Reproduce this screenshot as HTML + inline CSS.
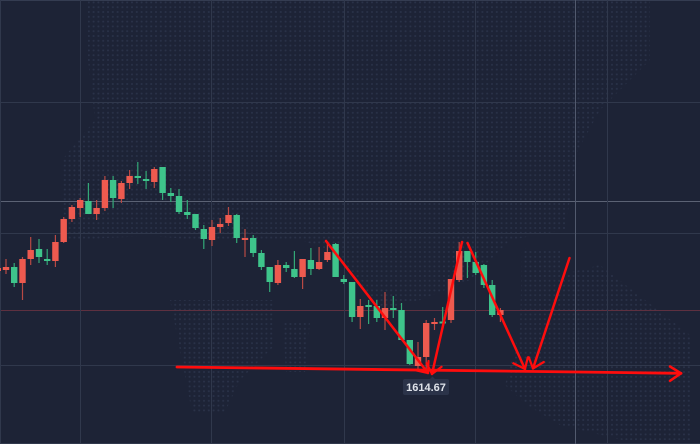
<!DOCTYPE html>
<html>
<head>
<meta charset="utf-8">
<style>
html,body{margin:0;padding:0;background:#1d2336;}
svg{display:block;}
</style>
</head>
<body>
<svg width="700" height="444" viewBox="0 0 700 444" xmlns="http://www.w3.org/2000/svg">
<defs>
<pattern id="dots" width="4.8" height="4.8" patternUnits="userSpaceOnUse">
<circle cx="2.4" cy="2.4" r="1" fill="#2a3249"/>
</pattern>
</defs>
<rect x="0" y="0" width="700" height="444" fill="#1d2336"/>
<!-- dotted world map approximation -->
<g fill="url(#dots)">
<polygon points="88,0 650,0 650,60 600,110 578,150 565,230 510,240 470,280 420,300 380,310 330,250 300,240 250,240 200,240 150,236 62,240 62,160 95,120 88,60"/>
<polygon points="170,300 275,300 275,345 240,380 225,412 192,412 180,350"/>
<polygon points="283,322 310,322 305,372 286,372"/>
<polygon points="522,248 560,250 560,275 600,265 645,300 690,335 690,440 622,440 560,425 527,405 505,385 520,330"/>
</g>
<!-- grid -->
<g stroke-width="1" shape-rendering="crispEdges">
<line x1="0" y1="0.5" x2="700" y2="0.5" stroke="#343c51"/>
<line x1="0" y1="102.5" x2="700" y2="102.5" stroke="#30384c"/>
<line x1="0" y1="201.5" x2="700" y2="201.5" stroke="#5b6274"/>
<line x1="0" y1="233.5" x2="700" y2="233.5" stroke="#30384c"/>
<line x1="0" y1="310.5" x2="700" y2="310.5" stroke="#5e3040"/>
<line x1="0" y1="365.5" x2="700" y2="365.5" stroke="#30384c"/>
<line x1="0" y1="443.5" x2="700" y2="443.5" stroke="#30384c"/>
<line x1="0.5" y1="0" x2="0.5" y2="444" stroke="#30384c"/>
<line x1="80.5" y1="0" x2="80.5" y2="444" stroke="#30384c"/>
<line x1="211.5" y1="0" x2="211.5" y2="444" stroke="#30384c"/>
<line x1="344.5" y1="0" x2="344.5" y2="444" stroke="#30384c"/>
<line x1="475.5" y1="0" x2="475.5" y2="444" stroke="#30384c"/>
<line x1="575.5" y1="0" x2="575.5" y2="444" stroke="#525a6e"/>
<line x1="607.5" y1="0" x2="607.5" y2="444" stroke="#30384c"/>
</g>
<!-- candles -->
<g stroke-width="1.2">
<!-- red wicks -->
<g stroke="#b84944">
<line x1="-2.2" y1="265" x2="-2.2" y2="274"/>
<line x1="6" y1="259" x2="6" y2="274"/>
<line x1="22.5" y1="257" x2="22.5" y2="300"/>
<line x1="30.7" y1="237" x2="30.7" y2="265"/>
<line x1="55.4" y1="235" x2="55.4" y2="267"/>
<line x1="63.7" y1="217" x2="63.7" y2="243"/>
<line x1="71.9" y1="205" x2="71.9" y2="222"/>
<line x1="80.2" y1="198" x2="80.2" y2="217"/>
<line x1="96.6" y1="200" x2="96.6" y2="220"/>
<line x1="104.9" y1="176" x2="104.9" y2="211"/>
<line x1="121.4" y1="181" x2="121.4" y2="203"/>
<line x1="129.6" y1="170" x2="129.6" y2="189"/>
<line x1="154.3" y1="167" x2="154.3" y2="188"/>
<line x1="212" y1="220" x2="212" y2="246"/>
<line x1="220.2" y1="218" x2="220.2" y2="233"/>
<line x1="228.5" y1="207" x2="228.5" y2="226"/>
<line x1="245" y1="229" x2="245" y2="257"/>
<line x1="277.9" y1="260" x2="277.9" y2="285"/>
<line x1="302.6" y1="259" x2="302.6" y2="289"/>
<line x1="319.1" y1="247" x2="319.1" y2="270"/>
<line x1="327.4" y1="243" x2="327.4" y2="262"/>
<line x1="360.3" y1="299" x2="360.3" y2="329"/>
<line x1="385" y1="292" x2="385" y2="330"/>
<line x1="418" y1="342" x2="418" y2="370"/>
<line x1="426.2" y1="320" x2="426.2" y2="369"/>
<line x1="434.5" y1="318" x2="434.5" y2="330"/>
<line x1="451" y1="279" x2="451" y2="323"/>
<line x1="459.2" y1="242" x2="459.2" y2="282"/>
<line x1="500.4" y1="308" x2="500.4" y2="322"/>
</g>
<!-- green wicks -->
<g stroke="#33a877">
<line x1="14.2" y1="263" x2="14.2" y2="287"/>
<line x1="39" y1="239" x2="39" y2="263"/>
<line x1="47.2" y1="249" x2="47.2" y2="265"/>
<line x1="88.4" y1="183" x2="88.4" y2="214"/>
<line x1="113.1" y1="176" x2="113.1" y2="208"/>
<line x1="137.8" y1="162" x2="137.8" y2="184"/>
<line x1="146.1" y1="171" x2="146.1" y2="189"/>
<line x1="162.6" y1="167" x2="162.6" y2="200"/>
<line x1="170.8" y1="188" x2="170.8" y2="202"/>
<line x1="179" y1="189" x2="179" y2="214"/>
<line x1="187.3" y1="200" x2="187.3" y2="219"/>
<line x1="195.5" y1="214" x2="195.5" y2="230"/>
<line x1="203.8" y1="225" x2="203.8" y2="249"/>
<line x1="236.7" y1="214" x2="236.7" y2="243"/>
<line x1="253.2" y1="235" x2="253.2" y2="257"/>
<line x1="261.4" y1="250" x2="261.4" y2="270"/>
<line x1="269.7" y1="267" x2="269.7" y2="292"/>
<line x1="286.2" y1="262" x2="286.2" y2="272"/>
<line x1="294.4" y1="251" x2="294.4" y2="278"/>
<line x1="310.9" y1="248" x2="310.9" y2="275"/>
<line x1="335.6" y1="243" x2="335.6" y2="277"/>
<line x1="343.8" y1="275" x2="343.8" y2="284"/>
<line x1="352.1" y1="282" x2="352.1" y2="322"/>
<line x1="368.6" y1="300" x2="368.6" y2="324"/>
<line x1="376.8" y1="300" x2="376.8" y2="322"/>
<line x1="393.3" y1="296" x2="393.3" y2="318"/>
<line x1="401.5" y1="303" x2="401.5" y2="340"/>
<line x1="409.8" y1="340" x2="409.8" y2="365"/>
<line x1="442.7" y1="307" x2="442.7" y2="323"/>
<line x1="467.4" y1="251" x2="467.4" y2="278"/>
<line x1="475.7" y1="252" x2="475.7" y2="275"/>
<line x1="483.9" y1="264" x2="483.9" y2="288"/>
<line x1="492.2" y1="280" x2="492.2" y2="317"/>
</g>
</g>
<!-- red bodies -->
<g fill="#ee5a4f">
<rect x="-5.4" y="268" width="6.4" height="3"/>
<rect x="2.8" y="267" width="6.4" height="3"/>
<rect x="19.3" y="259" width="6.4" height="24"/>
<rect x="27.5" y="250" width="6.4" height="9"/>
<rect x="52.2" y="242" width="6.4" height="19"/>
<rect x="60.5" y="219" width="6.4" height="23"/>
<rect x="68.7" y="207" width="6.4" height="12"/>
<rect x="77" y="200" width="6.4" height="8"/>
<rect x="93.4" y="208" width="6.4" height="6"/>
<rect x="101.7" y="180" width="6.4" height="28"/>
<rect x="118.2" y="183" width="6.4" height="16"/>
<rect x="126.4" y="176" width="6.4" height="7"/>
<rect x="151.1" y="169" width="6.4" height="13"/>
<rect x="208.8" y="227" width="6.4" height="13"/>
<rect x="217" y="224" width="6.4" height="3"/>
<rect x="225.3" y="215" width="6.4" height="8"/>
<rect x="241.8" y="238" width="6.4" height="2"/>
<rect x="274.7" y="265" width="6.4" height="18"/>
<rect x="299.4" y="259" width="6.4" height="18"/>
<rect x="315.9" y="262" width="6.4" height="7"/>
<rect x="324.2" y="252" width="6.4" height="8"/>
<rect x="357.1" y="306" width="6.4" height="11"/>
<rect x="381.8" y="308" width="6.4" height="10"/>
<rect x="414.8" y="357" width="6.4" height="9"/>
<rect x="423" y="323" width="6.4" height="34"/>
<rect x="431.3" y="322" width="6.4" height="2"/>
<rect x="447.8" y="279" width="6.4" height="41"/>
<rect x="456" y="251" width="6.4" height="29"/>
<rect x="497.2" y="310" width="6.4" height="5"/>
</g>
<!-- green bodies -->
<g fill="#3ec48b">
<rect x="11" y="267" width="6.4" height="16"/>
<rect x="35.8" y="249" width="6.4" height="8"/>
<rect x="44" y="259" width="6.4" height="2"/>
<rect x="85.2" y="201" width="6.4" height="13"/>
<rect x="109.9" y="180" width="6.4" height="18"/>
<rect x="134.6" y="176" width="6.4" height="2"/>
<rect x="142.9" y="179" width="6.4" height="2"/>
<rect x="159.4" y="167" width="6.4" height="26"/>
<rect x="167.6" y="193" width="6.4" height="3"/>
<rect x="175.8" y="196" width="6.4" height="16"/>
<rect x="184.1" y="212" width="6.4" height="3"/>
<rect x="192.3" y="214" width="6.4" height="14"/>
<rect x="200.6" y="229" width="6.4" height="10"/>
<rect x="233.5" y="215" width="6.4" height="23"/>
<rect x="250" y="238" width="6.4" height="15"/>
<rect x="258.2" y="253" width="6.4" height="14"/>
<rect x="266.5" y="267" width="6.4" height="15"/>
<rect x="283" y="265" width="6.4" height="3"/>
<rect x="291.2" y="269" width="6.4" height="8"/>
<rect x="307.7" y="260" width="6.4" height="9"/>
<rect x="332.4" y="244" width="6.4" height="33"/>
<rect x="340.6" y="279" width="6.4" height="3"/>
<rect x="348.9" y="282" width="6.4" height="35"/>
<rect x="365.4" y="305" width="6.4" height="2"/>
<rect x="373.6" y="306" width="6.4" height="12"/>
<rect x="390.1" y="308" width="6.4" height="2"/>
<rect x="398.3" y="310" width="6.4" height="30"/>
<rect x="406.6" y="340" width="6.4" height="24"/>
<rect x="439.5" y="321.5" width="6.4" height="2"/>
<rect x="464.2" y="251" width="6.4" height="11"/>
<rect x="472.5" y="262" width="6.4" height="11"/>
<rect x="480.7" y="265" width="6.4" height="20"/>
<rect x="489" y="285" width="6.4" height="30"/>
</g>
<!-- red drawn arrows -->
<g stroke="#ff0d0d" fill="none" stroke-linecap="round" stroke-linejoin="round">
<line x1="177" y1="367" x2="681" y2="373.3" stroke-width="2.8"/>
<polyline points="670,366.5 681,373.3 670,380.8" stroke-width="2.5"/>
<line x1="326" y1="241" x2="428" y2="373" stroke-width="2.5"/>
<polyline points="416.3,370.4 428,373 428.5,361" stroke-width="2.2"/>
<line x1="432" y1="374" x2="462" y2="242" stroke-width="2.5"/>
<polyline points="426.6,363.3 432,374 441.6,366.8" stroke-width="2.2"/>
<line x1="467.5" y1="243" x2="525" y2="369" stroke-width="2.5"/>
<polyline points="513.3,363.3 525,369 527.8,357.4" stroke-width="2.2"/>
<line x1="569.5" y1="258" x2="533" y2="368.5" stroke-width="2.5"/>
<polyline points="528.8,357.2 533,368.5 543.8,362" stroke-width="2.2"/>
</g>
<!-- tooltip -->
<polygon points="429,380 432.5,376.5 436,380" fill="#2b3349"/>
<rect x="403" y="379" width="46" height="16" rx="2" fill="#2b3349"/>
<text x="426" y="391" text-anchor="middle" font-family="'Liberation Sans', sans-serif" font-size="11" font-weight="bold" fill="#dfe3ea">1614.67</text>
</svg>
</body>
</html>
